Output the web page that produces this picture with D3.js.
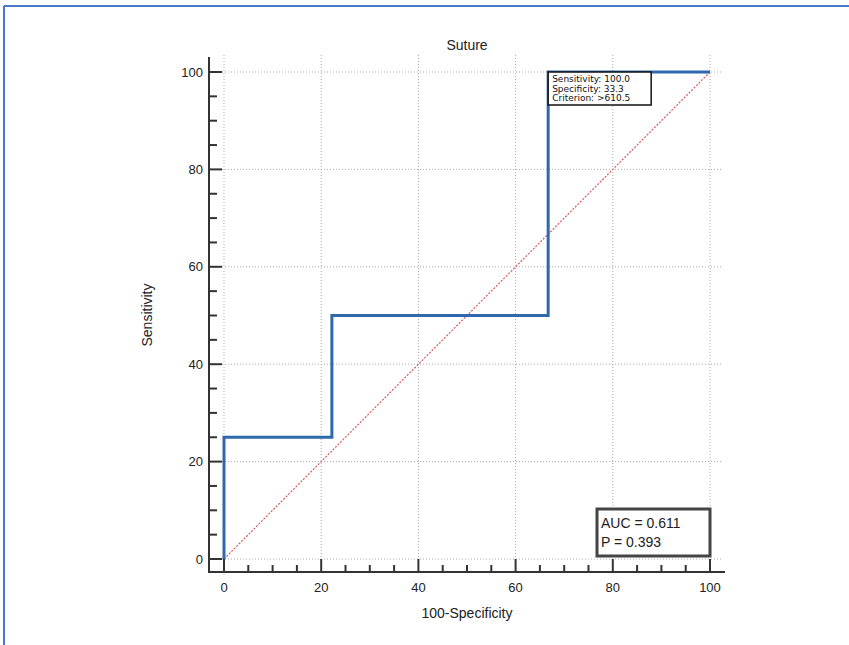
<!DOCTYPE html>
<html>
<head>
<meta charset="utf-8">
<script src="https://cdn.jsdelivr.net/npm/d3@7"></script>
<style>
  body { margin: 0; background: #fff; }
  svg { display: block; font-family: "Liberation Sans", Arial, sans-serif; }
</style>
</head>
<body>
<div id="chart"></div>
<script>
// ROC curve points (100-Specificity, Sensitivity)
const fpr = [0, 0, 22.2, 22.2, 66.7, 66.7, 100];
const tpr = [0, 25, 25, 50, 50, 100, 100];
const majorTicks = [0, 20, 40, 60, 80, 100];
const minorTicks = d3.range(0, 101, 5).filter((v) => v % 20 !== 0);
const pointLabels = ["Sensitivity: 100.0", "Specificity: 33.3", "Criterion: >610.5"];
const statLabels = ["AUC = 0.611", "P = 0.393"];
const labelPoint = [66.7, 100];

const W = 849, H = 645;
const svg = d3.select("#chart").append("svg").attr("width", W).attr("height", H);

// frame (top and left edges only)
svg.append("line").attr("x1", 4).attr("x2", W).attr("y1", 6).attr("y2", 6)
  .attr("stroke", "#4a78c8").attr("stroke-width", 2);
svg.append("line").attr("x1", 4).attr("x2", 4).attr("y1", 6).attr("y2", H)
  .attr("stroke", "#4a78c8").attr("stroke-width", 2);

const x = d3.scaleLinear().domain([0, 100]).range([224, 710]);
const y = d3.scaleLinear().domain([0, 100]).range([559, 72]);
const axisX = 209, axisY = 572;

// grid
const grid = svg.append("g").attr("stroke", "#aaa").attr("stroke-width", 1)
  .attr("stroke-dasharray", "1,2");
grid.selectAll(".gx").data(majorTicks).join("line")
  .attr("x1", (d) => x(d)).attr("x2", (d) => x(d)).attr("y1", 55).attr("y2", axisY - 13);
grid.selectAll(".gy").data(majorTicks).join("line")
  .attr("x1", axisX + 13).attr("x2", 722).attr("y1", (d) => y(d)).attr("y2", (d) => y(d));

// diagonal reference
svg.append("line")
  .attr("x1", x(0)).attr("y1", y(0)).attr("x2", x(100)).attr("y2", y(100))
  .attr("stroke", "#d85a5a").attr("stroke-width", 1.2).attr("stroke-dasharray", "2,1.5");

// axes
const ax = svg.append("g").attr("stroke", "#333").attr("stroke-width", 2);
ax.append("line").attr("x1", axisX).attr("x2", axisX).attr("y1", 57).attr("y2", axisY);
ax.append("line").attr("x1", axisX - 1).attr("x2", 725).attr("y1", axisY).attr("y2", axisY);
ax.selectAll(".ymaj").data(majorTicks).join("line")
  .attr("x1", axisX).attr("x2", axisX + 13).attr("y1", (d) => y(d)).attr("y2", (d) => y(d));
ax.selectAll(".ymin").data(minorTicks).join("line")
  .attr("x1", axisX).attr("x2", axisX + 8).attr("y1", (d) => y(d)).attr("y2", (d) => y(d));
ax.selectAll(".xmaj").data(majorTicks).join("line")
  .attr("x1", (d) => x(d)).attr("x2", (d) => x(d)).attr("y1", axisY).attr("y2", axisY - 13);
ax.selectAll(".xmin").data(minorTicks).join("line")
  .attr("x1", (d) => x(d)).attr("x2", (d) => x(d)).attr("y1", axisY).attr("y2", axisY - 7);

// tick labels
svg.selectAll(".ylab").data(majorTicks).join("text")
  .attr("x", 203).attr("y", (d) => y(d)).attr("dy", "0.35em")
  .attr("text-anchor", "end").attr("font-size", 13).attr("fill", "#222")
  .text((d) => d);
svg.selectAll(".xlab").data(majorTicks).join("text")
  .attr("x", (d) => x(d)).attr("y", 592)
  .attr("text-anchor", "middle").attr("font-size", 13).attr("fill", "#222")
  .text((d) => d);

// titles
svg.append("text").attr("x", 467).attr("y", 50).attr("text-anchor", "middle")
  .attr("font-size", 14).attr("fill", "#222").text("Suture");
svg.append("text").attr("x", 467).attr("y", 618).attr("text-anchor", "middle")
  .attr("font-size", 14).attr("fill", "#222").text("100-Specificity");
svg.append("text").attr("transform", "translate(152,315) rotate(-90)")
  .attr("text-anchor", "middle").attr("font-size", 14).attr("fill", "#222")
  .text("Sensitivity");

// ROC curve
const line = d3.line().x((d) => x(d[0])).y((d) => y(d[1]));
svg.append("path").datum(d3.zip(fpr, tpr)).attr("d", line)
  .attr("fill", "none").attr("stroke", "#2e68ad").attr("stroke-width", 3);

// point annotation
const bx = x(labelPoint[0]), by = y(labelPoint[1]);
svg.append("rect").attr("x", bx).attr("y", by).attr("width", 103).attr("height", 33)
  .attr("fill", "#fff").attr("stroke", "#111").attr("stroke-width", 1.5);
svg.selectAll(".plab").data(pointLabels).join("text")
  .attr("x", bx + 4).attr("y", (d, i) => by + 10 + i * 9.5)
  .attr("font-family", "DejaVu Sans").attr("font-size", 9)
  .attr("fill", "#111").text((d) => d);

// AUC box
svg.append("rect").attr("x", 597).attr("y", 509).attr("width", 113).attr("height", 47)
  .attr("fill", "#fff").attr("stroke", "#444").attr("stroke-width", 3);
svg.selectAll(".slab").data(statLabels).join("text")
  .attr("x", 601).attr("y", (d, i) => 528 + i * 19)
  .attr("font-size", 14).attr("fill", "#222").text((d) => d);
</script>
</body>
</html>
